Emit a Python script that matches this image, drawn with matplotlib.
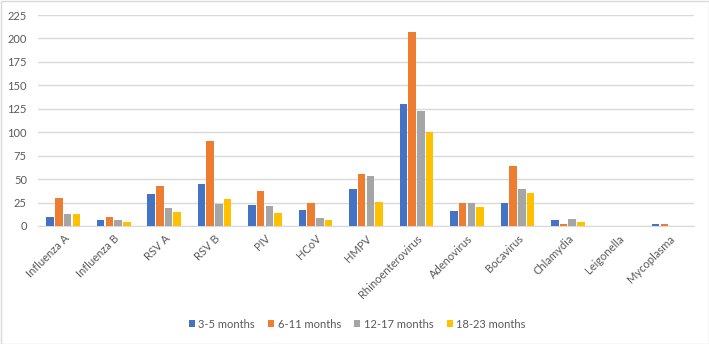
import matplotlib
matplotlib.use("Agg")
import matplotlib.pyplot as plt
import numpy as np
from matplotlib.patches import Rectangle

categories = ["Influenza A", "Influenza B", "RSV A", "RSV B", "PIV", "HCoV", "HMPV",
              "Rhinoenterovirus", "Adenovirus", "Bocavirus", "Chlamydia", "Leigonella", "Mycoplasma"]
series_names = ["3-5 months", "6-11 months", "12-17 months", "18-23 months"]
m3_5 = [10, 6, 34, 45, 22, 17, 39, 130, 16, 25, 6, 0, 2]
m6_11 = [30, 10, 43, 91, 37, 24, 55, 207, 25, 64, 2, 0, 2]
m12_17 = [13, 6, 19, 23, 21, 9, 53, 123, 24, 39, 7, 0, 0]
m18_23 = [13, 4, 15, 29, 14, 6, 26, 100, 20, 35, 4, 0, 0]
colors = ["#4472C4", "#ED7D31", "#A5A5A5", "#FFC000"]
yticks = [0, 25, 50, 75, 100, 125, 150, 175, 200, 225]

plt.rcParams['font.family'] = ['Lato', 'DejaVu Sans']
W, H = 709, 344
fig = plt.figure(figsize=(W/100, H/100), dpi=100)
ax = fig.add_axes([38/W, 1-226/H, (694-38)/W, (226-15)/H])

x = np.arange(len(categories))
slot = 0.173
bw = 0.15
for i, (vals, c, name) in enumerate(zip([m3_5, m6_11, m12_17, m18_23], colors, series_names)):
    ax.bar(x + (i-1.5)*slot, vals, width=bw, color=c, label=name, zorder=3)

ax.set_xlim(-0.5, len(categories)-0.5)
ax.set_ylim(0, 225)
ax.set_yticks(yticks)
ax.yaxis.grid(True, color="#D9D9D9", linewidth=1, zorder=0)
for s in ["top", "right", "left"]:
    ax.spines[s].set_visible(False)
ax.spines["bottom"].set_color("#D9D9D9")
ax.tick_params(axis="both", length=0, colors="#595959", labelsize=8)
ax.tick_params(axis="y", pad=8)
ax.set_xticks(x)
ax.set_xticklabels(categories, rotation=45, ha="right", rotation_mode="anchor")
ax.tick_params(axis="x", pad=5)

leg = ax.legend(loc="center", bbox_to_anchor=(357/W, 1-324/H), bbox_transform=fig.transFigure,
                ncol=4, frameon=False, fontsize=8, handlelength=0.55, handleheight=0.55,
                handletextpad=0.3, columnspacing=1.2)
for t in leg.get_texts():
    t.set_color("#595959")

fig.patches.append(Rectangle((0.5/W, 0.5/H), 1-1/W, 1-1/H, transform=fig.transFigure,
                             fill=False, edgecolor="#D9D9D9", linewidth=1))
fig.savefig("out.png", dpi=100)
